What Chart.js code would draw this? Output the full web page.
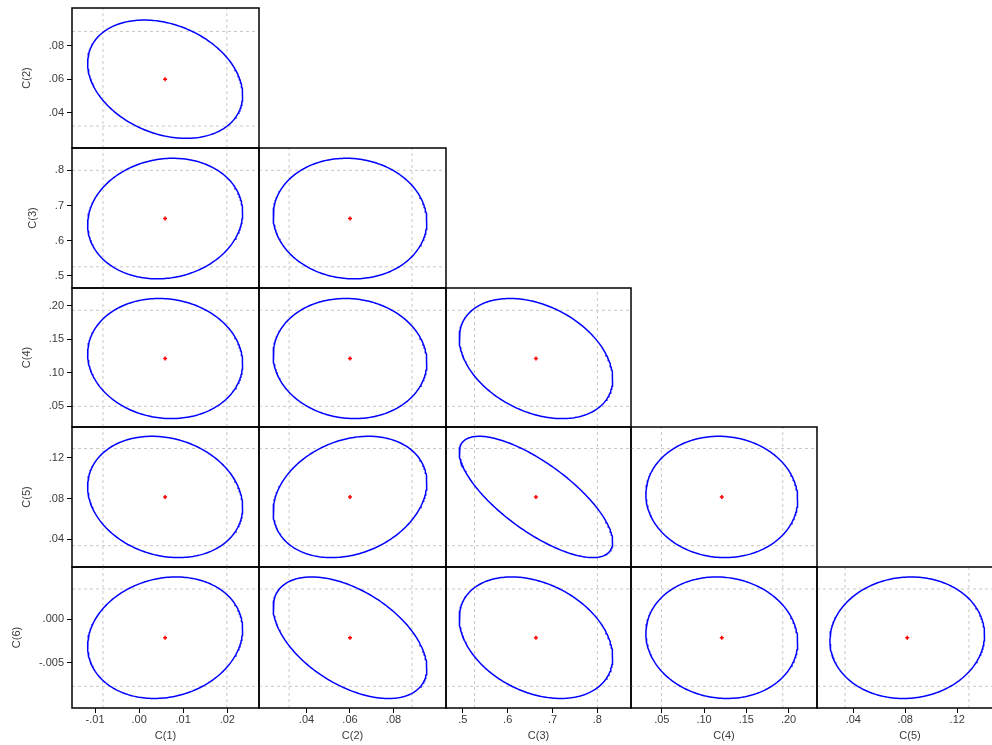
<!DOCTYPE html>
<html>
<head>
<meta charset="utf-8">
<title>Confidence ellipses</title>
<script src="https://cdn.jsdelivr.net/npm/chart.js@4.4.1/dist/chart.umd.min.js"></script>
<style>
  html, body { margin: 0; padding: 0; background: #fff; }
  #wrap { position: relative; width: 992px; height: 745px; overflow: hidden; background: #fff; }
  #wrap canvas { position: absolute; }
</style>
</head>
<body>
<div id="wrap"></div>
<script>
// coefficient names, point estimates, standard errors
const names = ["C(1)", "C(2)", "C(3)", "C(4)", "C(5)", "C(6)"];
const estimates = [0.0059, 0.0600, 0.663, 0.121, 0.0815, -0.00214];
const stdErrors = [0.00718, 0.01443, 0.0699, 0.0367, 0.0243, 0.00284];

// individual confidence intervals (dashed lines)
const ciLow = [-0.0082, 0.0320, 0.526, 0.0495, 0.0337, -0.0077];
const ciHigh = [0.0199, 0.0885, 0.800, 0.1932, 0.1290, 0.00343];

// correlations, lower triangle: corrRows[i][j] = corr(C(i+2), C(j+1))
const corrRows = [
  [-0.27],
  [0.10, -0.05],
  [-0.08, -0.06, -0.34],
  [-0.17, 0.24, -0.74, -0.04],
  [0.14, -0.50, -0.32, -0.07, 0.05],
];

// axis ranges when a coefficient is on the horizontal / vertical axis
const xMin = [-0.01522, 0.01816, 0.4624, 0.01355, 0.01208, null];
const xMax = [0.02719, 0.10414, 0.875, 0.2337, 0.1552, null];
const yMin = [null, 0.0189, 0.4659, 0.0186, 0.0128, -0.01018];
const yMax = [null, 0.1025, 0.8633, 0.2265, 0.1501, 0.00595];

// tick labels
const tickVals = [
  [-0.01, 0.00, 0.01, 0.02],
  [0.04, 0.06, 0.08],
  [0.5, 0.6, 0.7, 0.8],
  [0.05, 0.10, 0.15, 0.20],
  [0.04, 0.08, 0.12],
  [-0.005, 0.000],
];
const tickDecimals = [2, 2, 1, 2, 2, 3];

// layout of the panel grid (page pixels)
const COLS = [72, 259, 446, 631, 817, 1003];
const ROWS = [8, 148, 288, 427, 567, 708];
const M = 12;
const TXT = "#3a3a3a";
const K = Math.sqrt(5.991); // 95% joint region, 2 dof

Chart.defaults.font.family = "'Liberation Sans', Arial, sans-serif";
Chart.defaults.font.size = 11;

const fmt = (v, d) => Number(v).toFixed(d).replace(/^(-?)0\./, "$1.");

function ellipsePoints(xv, yv, r) {
  const pts = [];
  const s = Math.sqrt(1 - r * r);
  for (let k = 0; k <= 240; k++) {
    const t = (k / 240) * Math.PI * 2;
    pts.push({
      x: estimates[xv] + K * stdErrors[xv] * Math.cos(t),
      y: estimates[yv] + K * stdErrors[yv] * (r * Math.cos(t) + s * Math.sin(t)),
    });
  }
  return pts;
}

// black box round each panel
const frame = {
  id: "frame",
  afterDraw(chart) {
    const a = chart.chartArea;
    const ctx = chart.ctx;
    ctx.save();
    ctx.strokeStyle = "#000";
    ctx.lineWidth = 1.5;
    ctx.strokeRect(a.left, a.top, a.right - a.left, a.bottom - a.top);
    ctx.restore();
  },
};

function dashed(points) {
  return {
    data: points,
    showLine: true,
    pointRadius: 0,
    borderColor: "#c8c8c8",
    borderWidth: 1,
    borderDash: [3, 3],
    order: 2,
  };
}

function fitArea(chart, t) {
  for (let k = 0; k < 3; k++) {
    const a = chart.chartArea;
    const p = chart.options.layout.padding;
    chart.options.layout.padding = {
      left: p.left + (t.left - a.left),
      top: p.top + (t.top - a.top),
      right: p.right + (a.right - t.right),
      bottom: p.bottom + (a.bottom - t.bottom),
    };
    chart.update("none");
  }
}

const wrap = document.getElementById("wrap");

for (let i = 0; i < 5; i++) {
  for (let j = 0; j <= i; j++) {
    const xv = j;
    const yv = i + 1;
    const leftAxis = j === 0;
    const bottomAxis = i === 4;

    const cl = leftAxis ? 0 : COLS[j] - M;
    const ct = ROWS[i] - M;
    const cr = COLS[j + 1] + M;
    const cb = bottomAxis ? 760 : ROWS[i + 1] + M;

    const canvas = document.createElement("canvas");
    canvas.width = cr - cl;
    canvas.height = cb - ct;
    canvas.style.left = cl + "px";
    canvas.style.top = ct + "px";
    canvas.style.width = cr - cl + "px";
    canvas.style.height = cb - ct + "px";
    wrap.appendChild(canvas);

    const chart = new Chart(canvas, {
      type: "scatter",
      data: {
        datasets: [
          {
            data: [{ x: estimates[xv], y: estimates[yv] }],
            pointStyle: "cross",
            pointRadius: 2,
            borderColor: "#ff0000",
            backgroundColor: "#ff0000",
            borderWidth: 1.5,
            order: 0,
          },
          {
            data: ellipsePoints(xv, yv, corrRows[i][j]),
            showLine: true,
            pointRadius: 0,
            borderColor: "#0000ff",
            borderWidth: 1.5,
            order: 1,
          },
          dashed([{ x: ciLow[xv], y: yMin[yv] }, { x: ciLow[xv], y: yMax[yv] }]),
          dashed([{ x: ciHigh[xv], y: yMin[yv] }, { x: ciHigh[xv], y: yMax[yv] }]),
          dashed([{ x: xMin[xv], y: ciLow[yv] }, { x: xMax[xv], y: ciLow[yv] }]),
          dashed([{ x: xMin[xv], y: ciHigh[yv] }, { x: xMax[xv], y: ciHigh[yv] }]),
        ],
      },
      options: {
        responsive: false,
        animation: false,
        events: [],
        layout: { padding: { left: leftAxis ? 0 : M, top: M, right: M, bottom: bottomAxis ? 0 : M } },
        plugins: { legend: { display: false }, tooltip: { enabled: false } },
        scales: {
          x: {
            type: "linear",
            display: bottomAxis,
            min: xMin[xv],
            max: xMax[xv],
            afterBuildTicks: (s) => { s.ticks = tickVals[xv].map((v) => ({ value: v })); },
            ticks: {
              autoSkip: false,
              maxRotation: 0,
              padding: 0,
              color: TXT,
              callback: (v) => fmt(v, tickDecimals[xv]),
            },
            grid: { drawOnChartArea: false, drawTicks: true, tickLength: 5, color: "#000" },
            border: { display: false },
            title: { display: true, text: names[xv], color: TXT, padding: { top: 3, bottom: 0 } },
          },
          y: {
            type: "linear",
            display: leftAxis,
            min: yMin[yv],
            max: yMax[yv],
            afterBuildTicks: (s) => { s.ticks = tickVals[yv].map((v) => ({ value: v })); },
            ticks: {
              autoSkip: false,
              padding: 3,
              color: TXT,
              callback: (v) => fmt(v, tickDecimals[yv]),
            },
            grid: { drawOnChartArea: false, drawTicks: true, tickLength: 5, color: "#000" },
            border: { display: false },
            title: { display: true, text: names[yv], color: TXT, padding: { top: 0, bottom: 12 } },
          },
        },
      },
      plugins: [frame],
    });

    fitArea(chart, {
      left: COLS[j] - cl,
      top: ROWS[i] - ct,
      right: COLS[j + 1] - cl,
      bottom: ROWS[i + 1] - ct,
    });
  }
}
</script>
</body>
</html>
